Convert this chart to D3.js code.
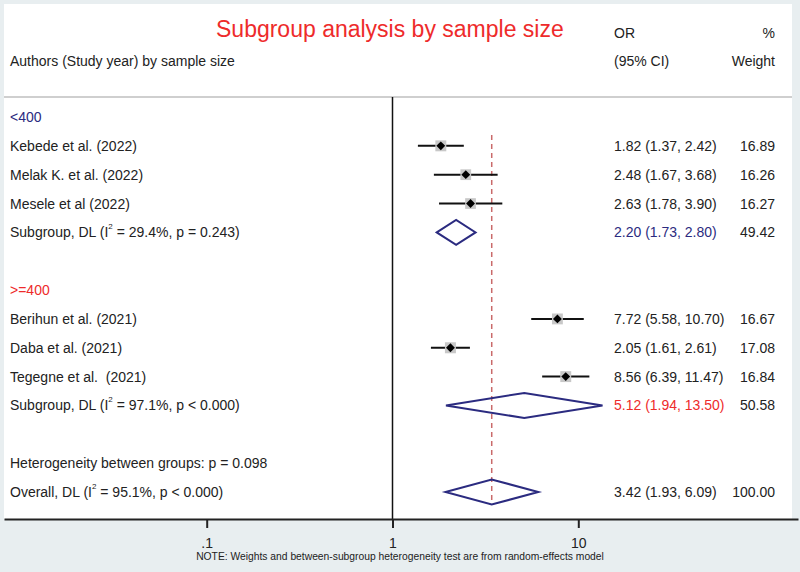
<!DOCTYPE html>
<html>
<head>
<meta charset="utf-8">
<script src="https://cdn.jsdelivr.net/npm/d3@7"></script>
<style>
  body { margin: 0; background: #e8eef0; }
  svg { display: block; font-family: "Liberation Sans", Arial, sans-serif; }
  text { white-space: pre; }
</style>
</head>
<body>
<div id="chart"></div>
<script>
// Forest plot: subgroup analysis by sample size (random-effects, DL)
const groupNames = ["<400", ">=400"];
const studies = ["Kebede et al. (2022)", "Melak K. et al. (2022)", "Mesele et al (2022)",
                 "Berihun et al. (2021)", "Daba et al. (2021)", "Tegegne et al.  (2021)"];
const studyGroup = [0, 0, 0, 1, 1, 1];
const orValues = [1.82, 2.48, 2.63, 7.72, 2.05, 8.56];
const ciLow = [1.37, 1.67, 1.78, 5.58, 1.61, 6.39];
const ciHigh = [2.42, 3.68, 3.90, 10.70, 2.61, 11.47];
const weights = [16.89, 16.26, 16.27, 16.67, 17.08, 16.84];

const subOr = [2.20, 5.12];
const subLow = [1.73, 1.94];
const subHigh = [2.80, 13.50];
const subWeight = [49.42, 50.58];
const subI2 = ["29.4%", "97.1%"];
const subP = ["p = 0.243", "p < 0.000"];

const overall = { or: 3.42, lo: 1.93, hi: 6.09, weight: 100.00, i2: "95.1%", p: "p < 0.000" };
const hetP = "0.098";
const tickValues = [0.1, 1, 10];
const tickLabels = [".1", "1", "10"];

const W = 800, H = 572;
const navy = "#2b2b80", red = "#ee2b2b";
const groupColor = [navy, red];

const svg = d3.select("#chart").append("svg").attr("width", W).attr("height", H);
svg.append("rect").attr("width", W).attr("height", H).attr("fill", "#e8eef0");
svg.append("rect").attr("x", 4).attr("y", 4).attr("width", 788).attr("height", 515).attr("fill", "#fff");

// Log scale anchored on the tick positions, then stretched across the full axis line
const x = d3.scaleLog().domain([0.1, 10]).range([206.7, 578.3]);
const axisLeft = 4, axisRight = 798, axisY = 519;
x.domain([x.invert(axisLeft), x.invert(axisRight)]).range([axisLeft, axisRight]);

// Build row list
const rows = [];
groupNames.forEach((g, gi) => {
  rows.push({ type: "group", gi });
  studies.forEach((s, i) => { if (studyGroup[i] === gi) rows.push({ type: "study", i }); });
  rows.push({ type: "sub", gi });
  rows.push({ type: "blank" });
});
rows.push({ type: "het" });
rows.push({ type: "overall" });

const y = d3.scalePoint().domain(d3.range(rows.length)).range([117, 492]);

// Header
svg.append("text").attr("x", 216).attr("y", 37).attr("fill", red)
  .attr("font-size", 23).text("Subgroup analysis by sample size");
svg.append("text").attr("x", 614).attr("y", 38).attr("font-size", 14).attr("fill", "#222").text("OR");
svg.append("text").attr("x", 775).attr("y", 38).attr("font-size", 14).attr("fill", "#222")
  .attr("text-anchor", "end").text("%");
svg.append("text").attr("x", 10).attr("y", 66).attr("font-size", 14).attr("fill", "#222")
  .text("Authors (Study year) by sample size");
svg.append("text").attr("x", 614).attr("y", 66).attr("font-size", 14).attr("fill", "#222").text("(95% CI)");
svg.append("text").attr("x", 775).attr("y", 66).attr("font-size", 14).attr("fill", "#222")
  .attr("text-anchor", "end").text("Weight");
svg.append("line").attr("x1", 4).attr("x2", 792).attr("y1", 97).attr("y2", 97)
  .attr("stroke", "#cfcfcf").attr("stroke-width", 2);

// Null line at OR = 1
svg.append("line").attr("x1", x(1)).attr("x2", x(1)).attr("y1", 97).attr("y2", axisY)
  .attr("stroke", "#111").attr("stroke-width", 1.5);

// Overall effect dashed line
svg.append("line").attr("x1", x(overall.or)).attr("x2", x(overall.or))
  .attr("y1", 135).attr("y2", y(rows.length - 1) + 13)
  .attr("stroke", "#c96a6a").attr("stroke-width", 1.5).attr("stroke-dasharray", "5,4");

const fmt = d3.format(".2f");
const ciText = (o, l, h) => `${fmt(o)} (${fmt(l)}, ${fmt(h)})`;
const box = d3.scaleSqrt().domain([0, d3.max(weights)]).range([0, 11]);

function hetLabel(prefix, i2, p, ty) {
  const t = svg.append("text").attr("x", 10).attr("y", ty).attr("font-size", 14).attr("fill", "#222");
  t.append("tspan").text(prefix + " (I");
  t.append("tspan").attr("font-size", 8).attr("dy", -8).text("2");
  t.append("tspan").attr("dy", 8).text(` = ${i2}, ${p})`);
}

function diamond(cy, o, l, h) {
  const hh = 12.5;
  svg.append("path")
    .attr("d", `M${x(l)},${cy} L${x(o)},${cy - hh} L${x(h)},${cy} L${x(o)},${cy + hh} Z`)
    .attr("fill", "none").attr("stroke", navy).attr("stroke-width", 2);
}

function rightCols(ty, ci, w, color) {
  svg.append("text").attr("x", 614).attr("y", ty).attr("font-size", 14).attr("fill", color).text(ci);
  svg.append("text").attr("x", 775).attr("y", ty).attr("font-size", 14).attr("fill", "#222")
    .attr("text-anchor", "end").text(fmt(w));
}

rows.forEach((r, k) => {
  const cy = y(k);
  const ty = cy + 5;
  if (r.type === "group") {
    svg.append("text").attr("x", 10).attr("y", ty).attr("font-size", 14)
      .attr("fill", groupColor[r.gi]).text(groupNames[r.gi]);
  } else if (r.type === "study") {
    const i = r.i;
    svg.append("text").attr("x", 10).attr("y", ty).attr("font-size", 14).attr("fill", "#222").text(studies[i]);
    svg.append("line").attr("x1", x(ciLow[i])).attr("x2", x(ciHigh[i])).attr("y1", cy).attr("y2", cy)
      .attr("stroke", "#111").attr("stroke-width", 2);
    const s = box(weights[i]);
    svg.append("rect").attr("x", x(orValues[i]) - s / 2).attr("y", cy - s / 2)
      .attr("width", s).attr("height", s).attr("fill", "#c8c8c8");
    svg.append("path").attr("transform", `translate(${x(orValues[i])},${cy})`)
      .attr("d", d3.symbol(d3.symbolDiamond2, 50)()).attr("fill", "#000");
    rightCols(ty, ciText(orValues[i], ciLow[i], ciHigh[i]), weights[i], "#222");
  } else if (r.type === "sub") {
    const g = r.gi;
    hetLabel("Subgroup, DL", subI2[g], subP[g], ty);
    diamond(cy, subOr[g], subLow[g], subHigh[g]);
    rightCols(ty, ciText(subOr[g], subLow[g], subHigh[g]), subWeight[g], groupColor[g]);
  } else if (r.type === "het") {
    svg.append("text").attr("x", 10).attr("y", ty).attr("font-size", 14).attr("fill", "#222")
      .text(`Heterogeneity between groups: p = ${hetP}`);
  } else if (r.type === "overall") {
    hetLabel("Overall, DL", overall.i2, overall.p, ty);
    diamond(cy, overall.or, overall.lo, overall.hi);
    rightCols(ty, ciText(overall.or, overall.lo, overall.hi), overall.weight, "#222");
  }
});

// Bottom axis
const axis = svg.append("g").attr("transform", `translate(0,${axisY})`)
  .call(d3.axisBottom(x).tickValues(tickValues).tickFormat((d, i) => tickLabels[i])
    .tickSize(9).tickSizeOuter(0).tickPadding(10));
axis.select(".domain").attr("stroke", "#222").attr("stroke-width", 2);
axis.selectAll(".tick line").attr("stroke", "#222").attr("stroke-width", 2);
axis.selectAll(".tick text").attr("font-size", 14).attr("fill", "#222")
  .attr("font-family", "Liberation Sans, Arial, sans-serif");

svg.append("text").attr("x", 400).attr("y", 560).attr("text-anchor", "middle")
  .attr("font-size", 10.3).attr("fill", "#222")
  .text("NOTE: Weights and between-subgroup heterogeneity test are from random-effects model");
</script>
</body>
</html>
